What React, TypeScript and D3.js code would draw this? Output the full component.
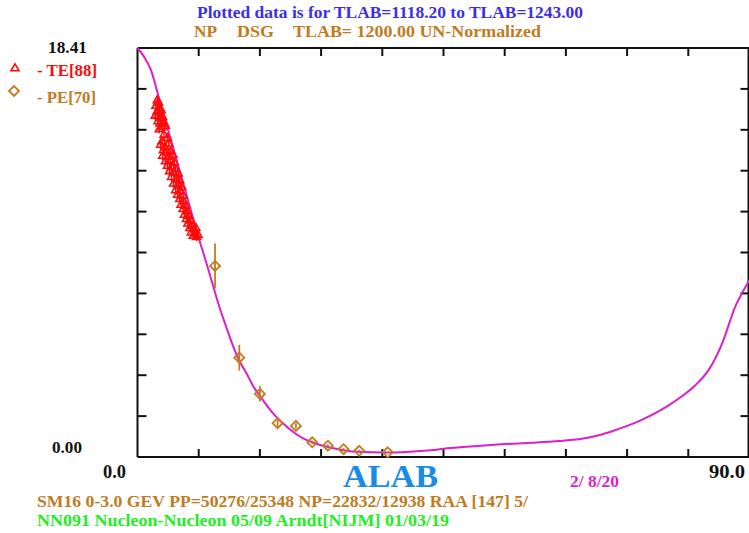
import React from "react";
import * as d3 from "d3";

// Theory curve (lab angle in degrees, dσ/dΩ)
const curveAngles = [0, 1, 2, 3, 4, 5, 6, 7, 8, 9, 10, 11, 12, 13, 14, 15, 16, 17, 18, 20, 22, 24, 26, 28, 30, 33, 36, 40, 44, 46, 50, 54, 58, 62, 66, 68, 70, 72, 74, 76, 78, 80, 82, 84, 86, 88, 89, 90];
const curveValues = [18.41, 18.0, 17.4, 16.34, 15.26, 14.18, 13.1, 12.02, 10.94, 9.86, 8.87, 7.83, 6.8, 5.9, 5.04, 4.32, 3.78, 3.2, 2.75, 1.94, 1.35, 0.9, 0.63, 0.45, 0.32, 0.22, 0.2, 0.24, 0.33, 0.4, 0.5, 0.58, 0.64, 0.72, 0.86, 0.99, 1.18, 1.4, 1.65, 1.95, 2.3, 2.72, 3.22, 3.92, 5.13, 6.84, 7.43, 7.97];

// TE measurements (angle, value)
const teAngles = [
  2.9, 3.1, 2.7, 3.2, 2.9, 3.5, 3.1, 2.6, 3.4, 3.7, 3.0, 3.3, 3.9, 3.6, 4.1, 3.2,
  3.9, 4.4, 3.6,
  3.4, 4.0, 4.6, 3.8, 4.3, 4.9, 3.7, 4.5, 5.2, 4.1, 4.8, 5.4, 4.4, 5.0,
  5.6, 4.7, 5.3, 6.0, 5.0, 5.7, 6.2, 5.3, 6.0, 6.5, 5.6, 6.3, 5.9, 6.7, 6.2,
  6.8, 6.4, 7.1, 6.7, 7.3, 6.9, 7.5, 7.2, 7.8, 7.4, 8.0, 7.7, 8.3, 7.9, 8.5, 8.2, 8.7, 8.6, 8.9,
];
const teValues = [
  16.05, 15.95, 15.8, 15.7, 15.55, 15.6, 15.4, 15.35, 15.25, 15.3, 15.1, 15.0, 15.05, 14.85, 14.9, 14.75,
  14.5, 14.35, 14.2,
  14.05, 13.95, 14.1, 13.8, 13.7, 13.75, 13.55, 13.5, 13.6, 13.3, 13.35, 13.25, 13.1, 13.05,
  12.95, 12.85, 12.8, 12.75, 12.6, 12.5, 12.45, 12.3, 12.25, 12.15, 12.0, 11.95, 11.8, 11.75, 11.6,
  11.5, 11.35, 11.3, 11.15, 11.05, 10.9, 10.85, 10.7, 10.65, 10.5, 10.4, 10.3, 10.25, 10.1, 10.05, 9.95, 9.9, 10.3, 10.0,
];
const teError = 0.18;

// PE measurements (angle, value, error)
const peAngles = [11.4, 14.97, 18.0, 20.6, 23.3, 25.7, 28.0, 30.3, 32.6, 36.8];
const peValues = [8.6, 4.47, 2.84, 1.52, 1.4, 0.66, 0.51, 0.35, 0.28, 0.21];
const peErrors = [1.01, 0.58, 0.34, 0.15, 0.12, 0.08, 0.06, 0.05, 0.04, 0.04];

const xTickValues = [0, 9, 18, 27, 36, 45, 54, 63, 72, 81, 90];
const yMax = 18.41;
const yTickValues = d3.range(0, 11).map((i) => (i * yMax) / 10);

const W = 749;
const H = 533;
const left = 137.5;
const right = 749.5;
const top = 48;
const bottom = 457;

const MAGENTA = "#dc1fc8";
const BROWN = "#c27b1c";
const RED = "#ff0a0a";
const FONT = "'Liberation Serif', 'Times New Roman', serif";

export default function App() {
  const x = d3.scaleLinear().domain([0, 90]).range([left, right]);
  const y = d3.scaleLinear().domain([0, yMax]).range([bottom, top]);

  const line = d3
    .line<number>()
    .x((_, i) => x(curveAngles[i]))
    .y((d) => y(d))
    .curve(d3.curveMonotoneX);

  const tri = d3.symbol().type(d3.symbolTriangle).size(28)();
  const diamond = (cx: number, cy: number, r: number) =>
    `M${cx},${cy - r}L${cx + r},${cy}L${cx},${cy + r}L${cx - r},${cy}Z`;

  const txt = (
    s: string,
    xx: number,
    yy: number,
    len: number,
    size: number,
    fill: string
  ) => (
    <text
      x={xx}
      y={yy}
      fontFamily={FONT}
      fontWeight="bold"
      fontSize={size}
      fill={fill}
      textLength={len}
      lengthAdjust="spacingAndGlyphs"
    >
      {s}
    </text>
  );

  return (
    <svg
      width={W}
      height={H}
      style={{ position: "absolute", left: 0, top: 0, background: "#fff" }}
    >
      <rect x={0} y={0} width={W} height={H} fill="#fff" />

      {/* titles */}
      {txt("Plotted data is for TLAB=1118.20 to TLAB=1243.00", 197, 18, 386, 16, "#3c2ee6")}
      {txt("NP", 194, 37, 23, 16, BROWN)}
      {txt("DSG", 237, 37, 37, 16, BROWN)}
      {txt("TLAB= 1200.00 UN-Normalized", 293, 37, 248, 16, BROWN)}

      {/* legend */}
      <path d={tri} transform="translate(15,68.5)" fill="none" stroke={RED} strokeWidth={1.6} />
      {txt("- TE[88]", 37, 76, 60, 16, RED)}
      <path d={diamond(14, 91, 5)} fill="none" stroke={BROWN} strokeWidth={1.8} />
      {txt("- PE[70]", 37, 103, 59, 16, BROWN)}

      {/* y labels */}
      {txt(yMax.toFixed(2), 48, 53, 39, 16, "#111")}
      {txt("0.00", 52, 453, 30, 16, "#111")}

      {/* x labels */}
      {txt(xTickValues[0].toFixed(1), 103, 478, 23, 18, "#111")}
      {txt(xTickValues[xTickValues.length - 1].toFixed(1), 709, 478, 36, 18, "#111")}
      {txt("ALAB", 343, 487, 95, 32, "#1a8ce6")}
      {txt("2/ 8/20", 570, 487, 49, 16, MAGENTA)}

      {/* footer */}
      {txt("SM16 0-3.0 GEV PP=50276/25348 NP=22832/12938 RAA [147]  5/", 37, 507, 491, 17, BROWN)}
      {txt("NN091 Nucleon-Nucleon 05/09 Arndt[NIJM] 01/03/19", 37, 526, 412, 17, "#22ee22")}

      {/* frame */}
      <g stroke="#111" strokeWidth={2} fill="none">
        <line x1={left} x2={right} y1={top} y2={top} />
        <line x1={left} x2={right} y1={bottom} y2={bottom} />
        <line x1={left} x2={left} y1={top} y2={bottom} />
        <line x1={right - 1} x2={right - 1} y1={top} y2={bottom} />
        {xTickValues.slice(1, -1).map((t) => (
          <g key={"xt" + t}>
            <line x1={x(t)} x2={x(t)} y1={top} y2={top + 8} />
            <line x1={x(t)} x2={x(t)} y1={bottom} y2={bottom - 8} />
          </g>
        ))}
        {yTickValues.slice(1, -1).map((t, i) => (
          <g key={"yt" + i}>
            <line x1={left} x2={left + 9} y1={y(t)} y2={y(t)} />
            <line x1={right - 1} x2={right - 9} y1={y(t)} y2={y(t)} />
          </g>
        ))}
      </g>

      {/* theory curve */}
      <path d={line(curveValues) || ""} fill="none" stroke={MAGENTA} strokeWidth={2} />

      {/* PE data */}
      <g stroke={BROWN} fill="none" strokeWidth={1.8}>
        {peAngles.map((a, i) => (
          <g key={"pe" + i}>
            <line
              x1={x(a)}
              x2={x(a)}
              y1={y(peValues[i] + peErrors[i])}
              y2={y(Math.max(0, peValues[i] - peErrors[i]))}
            />
            <path d={diamond(x(a), y(peValues[i]), 5)} />
          </g>
        ))}
      </g>

      {/* TE data */}
      <g stroke={RED} fill="none" strokeWidth={1.5}>
        {teAngles.map((a, i) => (
          <g key={"te" + i}>
            <line
              x1={x(a)}
              x2={x(a)}
              y1={y(teValues[i] + teError)}
              y2={y(teValues[i] - teError)}
            />
            <path d={tri} transform={`translate(${x(a)},${y(teValues[i])})`} />
          </g>
        ))}
      </g>
    </svg>
  );
}
